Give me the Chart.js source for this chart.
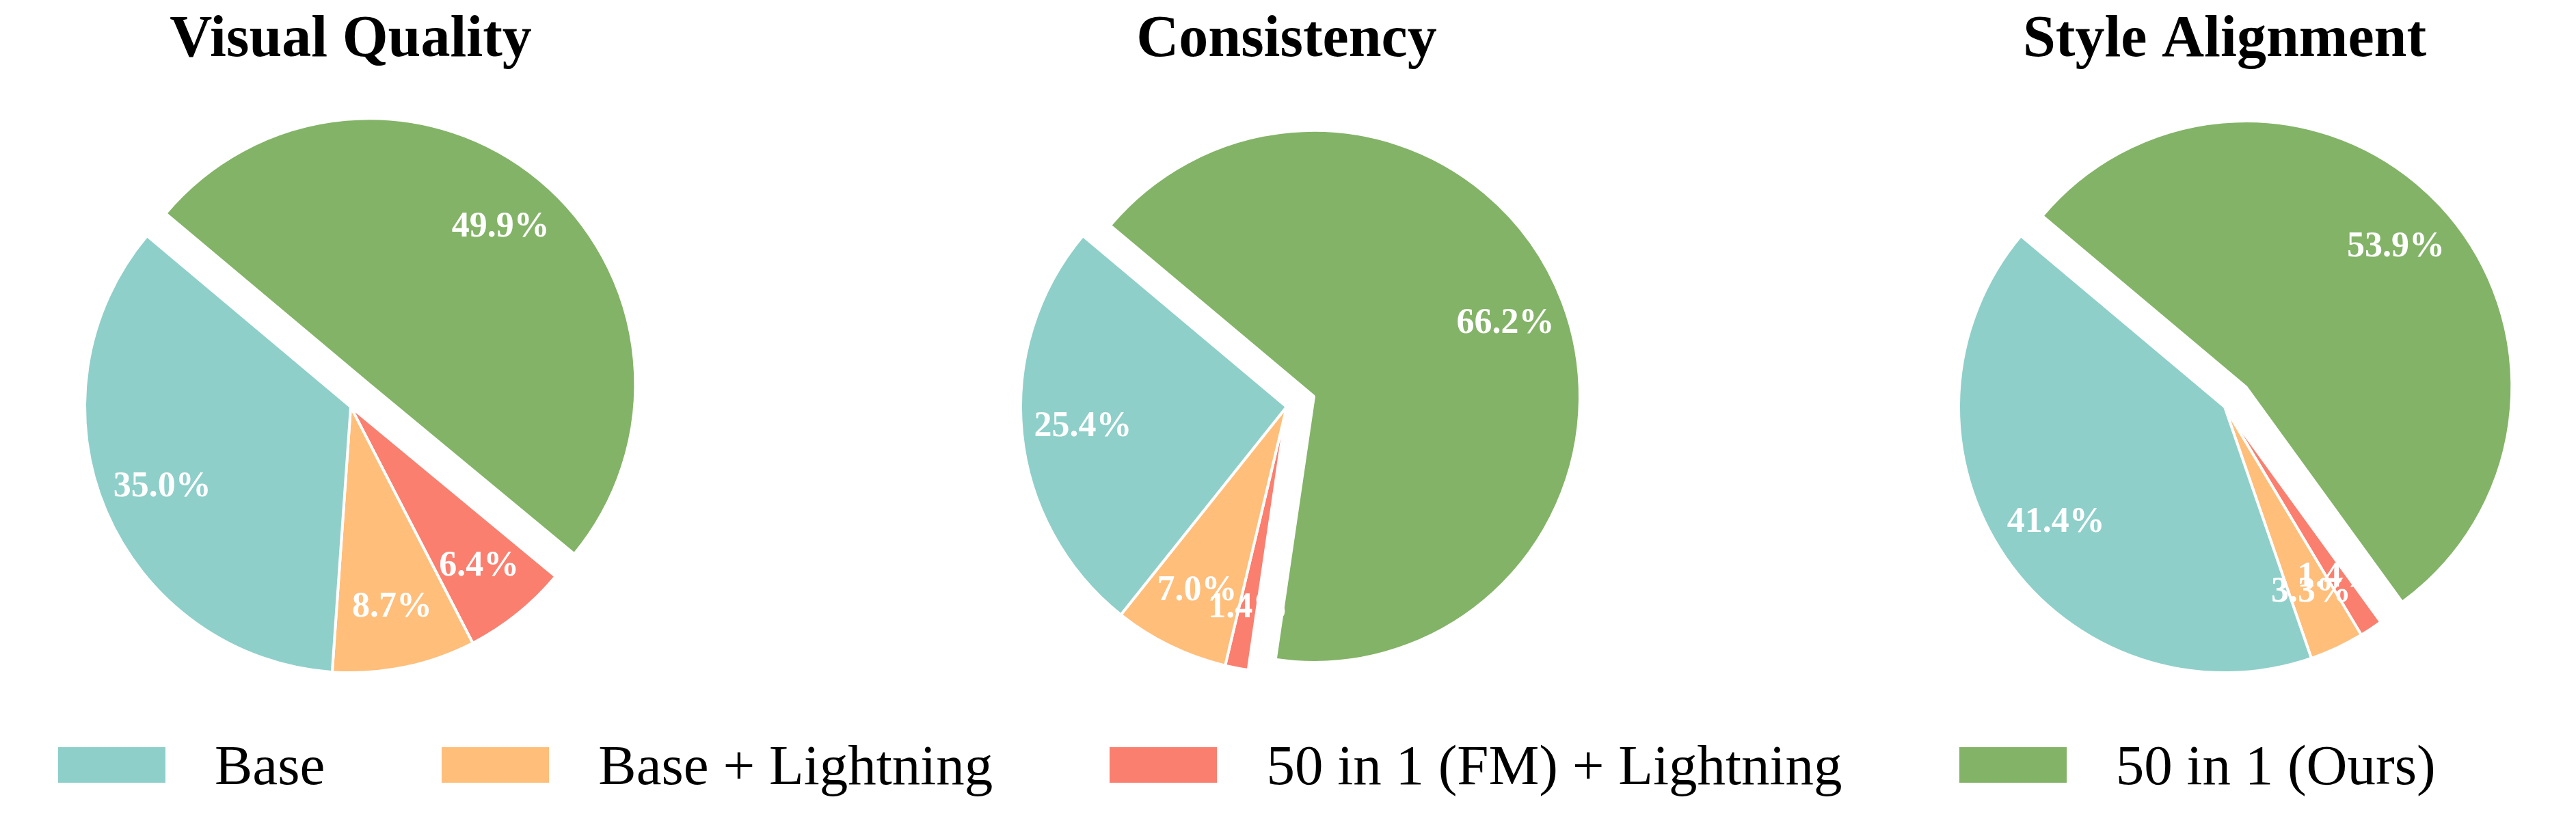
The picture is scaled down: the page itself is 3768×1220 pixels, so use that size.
<!DOCTYPE html>
<html lang="en">
<head>
    <meta charset="UTF-8">
    <title>Preference Study</title>
    <script src="https://cdn.jsdelivr.net/npm/chart.js"></script>
    <style>
        body {
            margin: 0;
            width: 3768px;
            height: 1220px;
            position: relative;
            overflow: hidden;
            background: #fff;
            font-family: "Liberation Serif", "Times New Roman", serif;
        }
        .pie {
            position: absolute;
            top: 0;
            width: 1000px;
            height: 1079px;
        }
        #legend {
            position: absolute;
            left: 85px;
            top: 1071px;
            display: flex;
            align-items: center;
            font-size: 83px;
            color: #000;
            white-space: nowrap;
        }
        .item { display: flex; align-items: center; margin-right: 171px; }
        .swatch { width: 157px; height: 52px; margin-right: 72px; }
    </style>
</head>
<body>
    <div class="pie" style="left:13px"><canvas id="pie0"></canvas></div>
    <div class="pie" style="left:1382px"><canvas id="pie1"></canvas></div>
    <div class="pie" style="left:2754px"><canvas id="pie2"></canvas></div>
    <div id="legend"></div>

    <script>
    const categories = ['Base', 'Base + Lightning', '50 in 1 (FM) + Lightning', '50 in 1 (Ours)'];
    const chartTitles = ['Visual Quality', 'Consistency', 'Style Alignment'];
    const visualQuality = [35.0, 8.7, 6.4, 49.9];
    const consistency = [25.4, 7.0, 1.4, 66.2];
    const styleAlignment = [41.4, 3.3, 1.4, 53.9];

    const colors = ['#8ECFC9', '#FFBE7A', '#FA7F6F', '#83B367'];
    // explode as fraction of radius, like matplotlib
    const explode = [0, 0, 0, 0.11];

    // move exploded wedges out along their middle angle
    const explodePlugin = {
        id: 'explode',
        afterDatasetUpdate(chart, args) {
            const amounts = chart.options.plugins.explode.amounts;
            args.meta.data.forEach((arc, i) => {
                const f = amounts[i] || 0;
                if (!f) return;
                const mid = (arc.startAngle + arc.endAngle) / 2;
                arc.x += Math.cos(mid) * f * arc.outerRadius;
                arc.y += Math.sin(mid) * f * arc.outerRadius;
            });
        }
    };

    // white percentage labels inside the wedges
    const pctLabels = {
        id: 'pctLabels',
        afterDatasetsDraw(chart) {
            const ctx = chart.ctx;
            const meta = chart.getDatasetMeta(0);
            const values = chart.data.datasets[0].data;
            const total = values.reduce((a, b) => a + b, 0);
            ctx.save();
            ctx.font = 'bold 52px "Liberation Serif"';
            ctx.fillStyle = '#fff';
            ctx.textAlign = 'center';
            ctx.textBaseline = 'middle';
            meta.data.forEach((arc, i) => {
                const mid = (arc.startAngle + arc.endAngle) / 2;
                const d = arc.outerRadius * 0.77;
                const txt = (values[i] / total * 100).toFixed(1) + '%';
                ctx.fillText(txt, arc.x + Math.cos(mid) * d, arc.y + Math.sin(mid) * d);
            });
            ctx.restore();
        }
    };

    // Chart.js goes clockwise, the original goes counter-clockwise: reverse the order
    const rev = arr => arr.slice().reverse();

    [visualQuality, consistency, styleAlignment].forEach((values, k) => {
        new Chart(document.getElementById('pie' + k), {
            type: 'pie',
            data: {
                labels: rev(categories),
                datasets: [{
                    data: rev(values),
                    backgroundColor: rev(colors),
                    borderColor: '#fff',
                    borderWidth: 4,
                    hoverOffset: 0
                }]
            },
            options: {
                responsive: true,
                maintainAspectRatio: false,
                animation: false,
                rotation: -50,
                radius: 389,
                layout: { padding: 0 },
                events: [],
                plugins: {
                    legend: { display: false },
                    tooltip: { enabled: false },
                    title: {
                        display: true,
                        text: chartTitles[k],
                        color: '#000',
                        font: { family: '"Liberation Serif"', size: 86, weight: 'bold' },
                        padding: { top: 8, bottom: 0 }
                    },
                    explode: { amounts: rev(explode) }
                }
            },
            plugins: [explodePlugin, pctLabels]
        });
    });

    // shared legend below the three pies
    const legend = document.getElementById('legend');
    categories.forEach((name, i) => {
        const item = document.createElement('div');
        item.className = 'item';
        const sw = document.createElement('span');
        sw.className = 'swatch';
        sw.style.background = colors[i];
        const label = document.createElement('span');
        label.textContent = name;
        item.appendChild(sw);
        item.appendChild(label);
        legend.appendChild(item);
    });
    </script>
</body>
</html>
